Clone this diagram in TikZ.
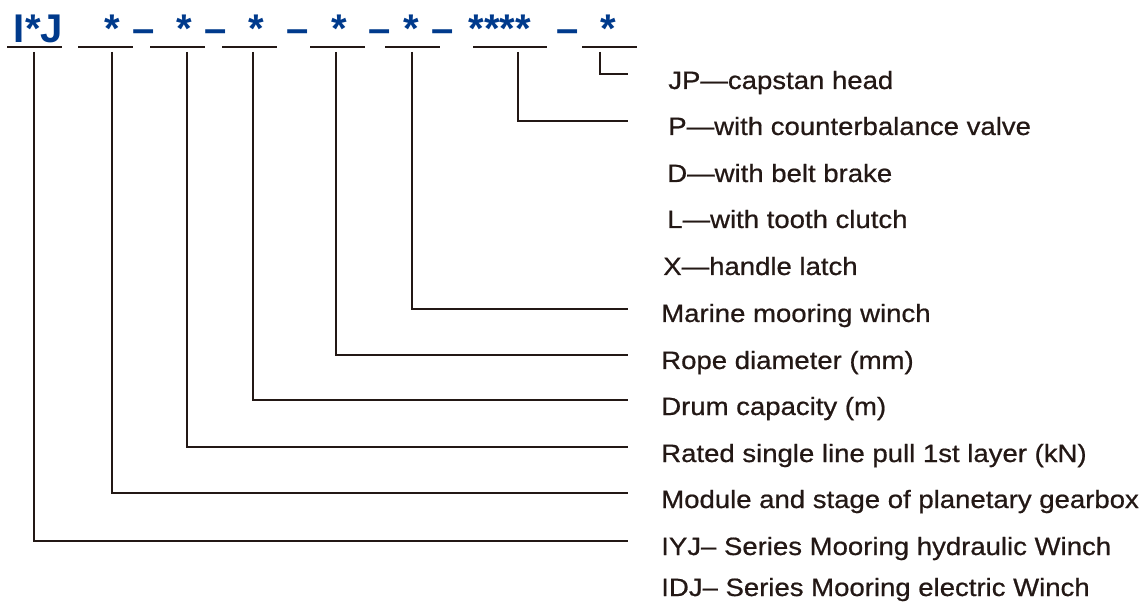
\documentclass[tikz,border=0pt]{standalone}
\usepackage{fontspec}
\usepackage{tikz}
\newfontfamily\labfont{Liberation Sans}[FakeStretch=1.1,FakeBold=0.7]
\newfontfamily\codefont{Liberation Sans}
\definecolor{ink}{RGB}{35,24,21}
\definecolor{codeblue}{RGB}{0,58,140}

\begin{document}
\begin{tikzpicture}[x=0.025cm,y=-0.025cm,
    code/.style={anchor=base, inner sep=0pt, text=codeblue,
      font=\codefont\bfseries\fontsize{28.5pt}{30pt}\selectfont},
    lab/.style={anchor=base west, inner sep=0pt, text=ink,
      font=\labfont\fontsize{17.8pt}{20pt}\selectfont},
    uline/.style={draw=ink, line width=2.1pt},
    conn/.style={draw=ink, line width=1.7pt}]
  \useasboundingbox (0,0) rectangle (1144,602);

  % type code
  \node[code] (c0) at (38.5,43)  {I*J};
  \node[code] (c1) at (112.5,43) {*};
  \node[code] (d1) at (144,43)   {–};
  \node[code] (c2) at (184.5,43) {*};
  \node[code] (d2) at (215.5,43) {–};
  \node[code] (c3) at (256.5,43) {*};
  \node[code] (d3) at (298,43)   {–};
  \node[code] (c4) at (339,43)   {*};
  \node[code] (d4) at (380,43)   {–};
  \node[code] (c5) at (411,43)   {*};
  \node[code] (d5) at (442.5,43) {–};
  \node[code] (c6) at (500,43)   {****};
  \node[code] (d6) at (568,43)   {–};
  \node[code] (c7) at (608.5,43) {*};

  % underlines
  \draw[uline] (7,47)   -- (62,47);
  \draw[uline] (78,47)  -- (133,47);
  \draw[uline] (150,47) -- (205,47);
  \draw[uline] (222,47) -- (277,47);
  \draw[uline] (310,47) -- (365,47);
  \draw[uline] (385,47) -- (440,47);
  \draw[uline] (473,47) -- (547,47);
  \draw[uline] (582,47) -- (637,47);

  % explanations
  \node[lab] (jp)    at (668,89)  {JP—capstan head};
  \node[lab] (p)     at (668,135) {P—with counterbalance valve};
  \node[lab] (d)     at (667,182) {D—with belt brake};
  \node[lab] (l)     at (667,228) {L—with tooth clutch};
  \node[lab] (x)     at (663,275) {X—handle latch};
  \node[lab] (mar)   at (661,322) {Marine mooring winch};
  \node[lab] (rope)  at (661,369) {Rope diameter (mm)};
  \node[lab] (drum)  at (661,415) {Drum capacity (m)};
  \node[lab] (pull)  at (661,462) {Rated single line pull 1st layer (kN)};
  \node[lab] (mod)   at (661,508) {Module and stage of planetary gearbox};
  \node[lab] (iyj)   at (661,555) {IYJ– Series Mooring hydraulic Winch};
  \node[lab] (idj)   at (661,596) {IDJ– Series Mooring electric Winch};

  % connector ends
  \coordinate (t0) at (34,52);  \coordinate (e0) at (628,541);
  \coordinate (t1) at (112,52); \coordinate (e1) at (628,493);
  \coordinate (t2) at (187,52); \coordinate (e2) at (628,447);
  \coordinate (t3) at (253,52); \coordinate (e3) at (628,400);
  \coordinate (t4) at (336,52); \coordinate (e4) at (628,355);
  \coordinate (t5) at (412,52); \coordinate (e5) at (628,309);
  \coordinate (t6) at (518,52); \coordinate (e6) at (628,121);
  \coordinate (t7) at (600,52); \coordinate (e7) at (628,74);

  \draw[conn] (t0) |- (e0);
  \draw[conn] (t1) |- (e1);
  \draw[conn] (t2) |- (e2);
  \draw[conn] (t3) |- (e3);
  \draw[conn] (t4) |- (e4);
  \draw[conn] (t5) |- (e5);
  \draw[conn] (t6) |- (e6);
  \draw[conn] (t7) |- (e7);
\end{tikzpicture}
\end{document}
